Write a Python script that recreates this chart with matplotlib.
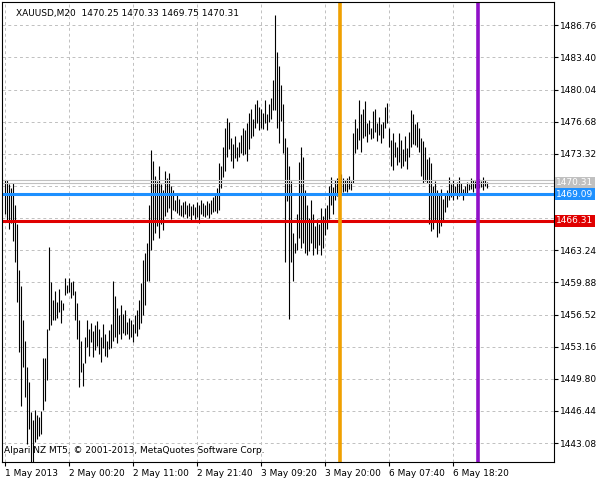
import numpy as np
import matplotlib
matplotlib.use("Agg")
import matplotlib.pyplot as plt

# bar highs / lows, XAUUSD M20, one bar per 20 minutes
highs = [1470.6,1470.6,1470.2,1469.8,1470.3,1468.0,1466.0,1461.2,1459.5,1456.0,
         1453.8,1451.0,1449.5,1446.3,1445.5,1446.5,1446.0,1445.8,1446.4,1452.0,
         1452.0,1455.0,1463.6,1459.9,1458.0,1459.0,1457.8,1459.2,1458.0,1457.7,
         1460.3,1459.6,1460.3,1459.9,1460.0,1459.0,1457.7,1456.0,1453.8,1451.5,
         1454.2,1456.0,1455.0,1455.6,1454.8,1455.4,1455.8,1455.0,1454.2,1455.5,
         1454.5,1453.8,1454.9,1455.5,1460.0,1458.5,1457.2,1456.5,1457.5,1456.6,
         1457.0,1455.7,1456.2,1456.0,1455.5,1456.5,1457.0,1458.0,1459.8,1462.2,
         1463.0,1464.0,1468.0,1473.7,1472.6,1471.0,1470.5,1472.0,1470.2,1469.5,
         1471.5,1470.8,1471.3,1470.0,1469.5,1468.5,1469.0,1468.6,1468.0,1468.3,
         1468.4,1468.0,1468.2,1467.9,1468.1,1467.8,1468.3,1468.0,1468.5,1468.2,
         1468.0,1468.4,1468.2,1468.5,1468.8,1469.0,1469.8,1472.4,1472.0,1474.0,
         1476.0,1477.1,1476.6,1475.0,1474.4,1475.2,1474.0,1474.6,1475.3,1476.0,
         1475.8,1476.5,1477.6,1478.0,1477.0,1478.5,1479.0,1478.2,1478.0,1477.6,
         1479.0,1477.5,1478.5,1479.2,1481.0,1487.8,1484.0,1482.5,1480.5,1478.5,
         1475.0,1474.0,1472.0,1470.5,1465.0,1464.0,1467.0,1472.5,1474.0,1473.0,
         1469.5,1468.0,1466.6,1468.5,1467.0,1465.8,1466.5,1466.0,1467.7,1466.8,
         1467.7,1468.0,1470.0,1470.9,1469.9,1470.6,1470.8,1470.3,1471.2,1470.8,
         1470.6,1470.8,1471.0,1470.5,1475.5,1477.0,1476.0,1479.0,1477.5,1478.0,
         1478.8,1476.5,1476.9,1476.0,1477.8,1478.0,1476.5,1477.2,1476.4,1476.6,
         1478.2,1478.6,1476.0,1474.8,1475.5,1474.6,1474.0,1475.5,1474.8,1473.8,
         1475.2,1473.9,1475.6,1477.9,1477.5,1476.4,1476.6,1476.0,1475.0,1474.7,
         1474.0,1472.8,1473.0,1472.4,1470.0,1470.5,1469.5,1469.0,1469.6,1468.6,
         1469.0,1469.5,1470.9,1470.2,1470.6,1470.0,1470.4,1470.9,1470.3,1469.6,
         1470.0,1470.4,1470.2,1470.8,1470.6,1470.5,1470.8,1470.7,1470.5,1470.9,1470.6,1470.33]
lows = [1467.0,1466.2,1465.5,1466.1,1464.2,1462.0,1457.8,1452.6,1447.0,1451.0,
        1447.9,1443.0,1444.5,1440.6,1441.0,1443.2,1443.5,1443.8,1444.0,1446.5,
        1447.5,1449.7,1454.9,1455.4,1456.0,1455.9,1456.2,1456.8,1455.6,1457.0,
        1458.6,1458.8,1458.9,1458.3,1458.6,1456.0,1454.0,1448.9,1450.5,1449.0,
        1451.5,1453.1,1452.2,1453.7,1452.1,1452.8,1453.2,1452.4,1451.6,1453.0,
        1452.2,1452.1,1452.9,1453.0,1453.8,1454.2,1453.5,1454.5,1454.0,1454.6,
        1454.4,1454.5,1454.0,1454.2,1453.7,1454.6,1454.3,1455.0,1455.6,1456.5,
        1457.5,1460.0,1460.0,1463.3,1464.3,1465.0,1465.8,1464.5,1466.0,1465.4,
        1466.8,1467.2,1467.7,1466.5,1467.5,1467.3,1467.1,1466.9,1466.8,1466.7,
        1467.0,1466.6,1466.8,1466.2,1466.9,1466.5,1466.7,1466.1,1467.0,1466.8,
        1466.7,1466.9,1466.6,1467.0,1467.2,1467.3,1467.1,1467.4,1469.8,1470.9,
        1471.5,1473.0,1473.8,1472.6,1471.8,1472.9,1472.6,1473.0,1473.4,1473.2,
        1473.3,1472.6,1473.8,1475.0,1475.2,1476.0,1476.5,1475.8,1476.0,1475.9,
        1476.5,1475.8,1476.6,1477.0,1477.9,1477.9,1476.0,1474.5,1476.8,1473.4,
        1462.0,1468.4,1456.1,1462.0,1460.0,1463.0,1463.3,1464.5,1463.5,1464.0,
        1463.0,1462.7,1463.2,1464.0,1462.7,1463.5,1462.9,1463.8,1462.7,1463.5,
        1464.8,1465.5,1466.5,1468.0,1467.0,1468.5,1468.9,1467.8,1469.0,1469.3,
        1469.4,1469.3,1469.6,1469.5,1470.3,1473.4,1473.8,1474.8,1473.5,1475.0,
        1475.2,1474.6,1475.4,1474.9,1475.0,1475.6,1474.7,1475.3,1474.5,1475.0,
        1476.0,1476.5,1474.0,1472.0,1471.6,1473.0,1472.2,1472.5,1471.8,1472.1,
        1472.6,1471.7,1473.0,1474.0,1474.4,1474.2,1474.0,1473.5,1471.0,1470.3,
        1470.5,1470.3,1466.0,1465.3,1465.5,1466.2,1464.6,1465.0,1465.8,1466.3,
        1467.2,1467.8,1468.5,1468.8,1468.5,1469.0,1468.6,1468.9,1469.2,1468.5,
        1469.2,1469.0,1469.5,1469.6,1469.3,1469.7,1469.8,1469.7,1469.9,1469.5,1470.0,1469.75]

price_ticks = [1443.08, 1446.44, 1449.80, 1453.16, 1456.52, 1459.88, 1463.24,
               1466.60, 1469.96, 1473.32, 1476.68, 1480.04, 1483.40, 1486.76]
hidden_ticks = [1466.60, 1469.96]
time_labels = ["1 May 2013", "2 May 00:20", "2 May 11:00", "2 May 21:40",
               "3 May 09:20", "3 May 20:00", "6 May 07:40", "6 May 18:20"]
bid, ask = 1470.31, 1470.60
blue_level, red_level = 1469.09, 1466.31
orange_bar, purple_bar = 167.5, 236.5

plt.rcParams['font.family'] = ['DejaVu Sans']
fig = plt.figure(figsize=(6.04, 4.90), dpi=100)
ax = fig.add_axes([2/604, 28/490, 552/604, 460/490])

x = np.arange(len(highs))
ax.vlines(x, lows, highs, color='black', lw=0.8)

ax.set_xlim(-1.5, 274.5)
ax.set_ylim(1441.1, 1489.2)

ax.set_yticks(price_ticks)
ax.set_yticklabels(["" if p in hidden_ticks else f"{p:.2f}" for p in price_ticks])
ax.yaxis.tick_right()
ax.tick_params(axis='y', labelsize=6.5, length=3, pad=1)
ax.set_xticks(np.arange(len(time_labels)) * 32)
ax.set_xticklabels(time_labels, ha='left')
ax.tick_params(axis='x', labelsize=6.5, length=3, pad=2)
ax.grid(True, color='#c0c0c0', ls=(0, (3, 3)), lw=0.7)
ax.set_axisbelow(True)

ax.axhline(ask, color='#c0c0c0', lw=0.8)
ax.axhline(bid, color='#c0c0c0', lw=0.8)
ax.axhline(blue_level, color='#1e90ff', lw=2.2)
ax.axhline(red_level, color='#e00000', lw=2.2)
ax.axvline(orange_bar, color='#f0a000', lw=2.6)
ax.axvline(purple_bar, color='#9010c8', lw=2.6)

for val, col in [(bid, '#c0c0c0'), (blue_level, '#1e90ff'), (red_level, '#e00000')]:
    ax.text(1.004, val, f"{val:.2f}", transform=ax.get_yaxis_transform(),
            va='center', ha='left', fontsize=6.5, color='white',
            bbox=dict(boxstyle='square,pad=0.15', fc=col, ec='none'))

ax.text(0.025, 0.985, "XAUUSD,M20  1470.25 1470.33 1469.75 1470.31",
        transform=ax.transAxes, fontsize=6.5, va='top', ha='left')
ax.text(0.004, 0.015, "Alpari NZ MT5, © 2001-2013, MetaQuotes Software Corp.",
        transform=ax.transAxes, fontsize=6.5, va='bottom', ha='left')

fig.savefig("out.png", dpi=100)
